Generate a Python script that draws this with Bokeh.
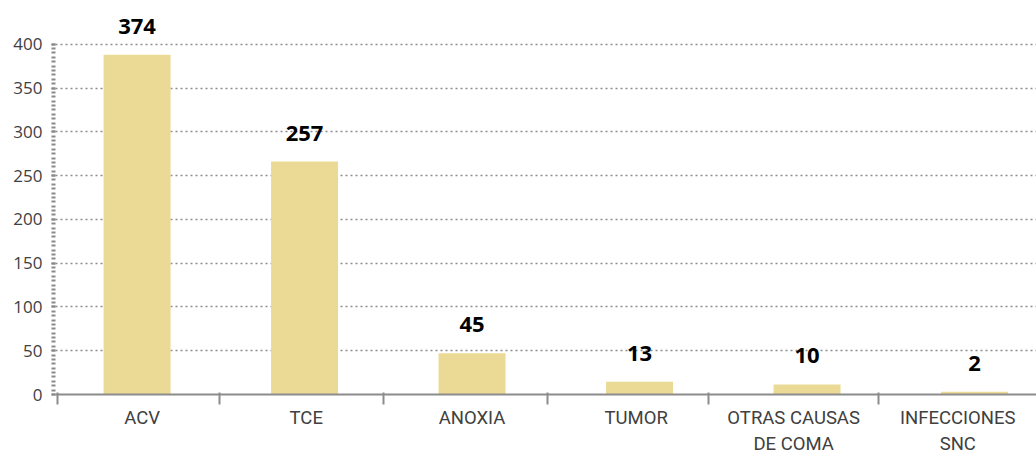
from bokeh.plotting import figure
from bokeh.models import ColumnDataSource, LabelSet, FixedTicker, Range1d
from bokeh.core.properties import value
from bokeh.embed import file_html
from bokeh.resources import INLINE

categories = ["ACV", "TCE", "ANOXIA", "TUMOR", "OTRAS CAUSAS\nDE COMA", "INFECCIONES\nSNC"]
bar_values = [388, 266, 47, 14.5, 11.5, 3]
label_texts = ["374", "257", "45", "13", "10", "2"]
y_ticks = [0, 50, 100, 150, 200, 250, 300, 350, 400]

xs = list(range(len(categories)))
src = ColumnDataSource(dict(x=xs, top=bar_values, lab=label_texts))

p = figure(width=1036, height=457, output_backend="svg", toolbar_location=None,
           x_range=Range1d(-0.487, 5.37), y_range=Range1d(0, 438.5),
           min_border_left=55, min_border_right=0, min_border_top=10, min_border_bottom=60)
p.outline_line_color = None
p.background_fill_color = "white"
p.border_fill_color = "white"

p.vbar(x="x", top="top", width=0.4, source=src, fill_color="#EBDA95", line_color=None)

labels = LabelSet(x="x", y="top", text="lab", source=src, y_offset=21,
                  text_align="center", text_baseline="alphabetic",
                  text_font=value("Open Sans"), text_font_style="bold",
                  text_font_size="22px", text_color="#000000")
p.add_layout(labels)

# y axis
p.yaxis.ticker = FixedTicker(ticks=y_ticks, minor_ticks=list(range(0, 401, 5)))
p.yaxis.axis_line_color = None
p.yaxis.major_tick_line_color = "#8a8a8a"
p.yaxis.major_tick_line_width = 2
p.yaxis.major_tick_in = 0
p.yaxis.major_tick_out = 4
p.yaxis.minor_tick_line_color = "#8a8a8a"
p.yaxis.minor_tick_line_width = 2
p.yaxis.minor_tick_in = 0
p.yaxis.minor_tick_out = 4
p.yaxis.major_label_standoff = 9
p.yaxis.major_label_text_font = "Open Sans"
p.yaxis.major_label_text_font_size = "17px"
p.yaxis.major_label_text_color = "#404040"

# x axis
label_pos = [0.03, 1.01, 2.0, 2.98, 3.92, 4.90]
bound_pos = [-0.475, 0.4925, 1.4716, 2.4507, 3.4119, 4.4269, 5.4]
p.xaxis.ticker = FixedTicker(ticks=label_pos, minor_ticks=bound_pos)
p.xaxis.major_label_overrides = {pos: c for pos, c in zip(label_pos, categories)}
p.xaxis.axis_line_color = "#8c8c8c"
p.xaxis.axis_line_width = 2
p.xaxis.major_tick_line_color = None
p.xaxis.major_tick_in = 0
p.xaxis.major_tick_out = 0
p.xaxis.minor_tick_line_color = "#8c8c8c"
p.xaxis.minor_tick_line_width = 2
p.xaxis.minor_tick_in = 2
p.xaxis.minor_tick_out = 10
p.xaxis.major_label_standoff = 2
p.xaxis.major_label_text_font = "Roboto"
p.xaxis.major_label_text_font_size = "18.5px"
p.xaxis.major_label_text_color = "#404040"
p.xaxis.major_label_text_line_height = 1.2

p.xgrid.grid_line_color = None
p.ygrid.ticker = FixedTicker(ticks=y_ticks[1:])
p.ygrid.grid_line_color = "#8c8c8c"
p.ygrid.grid_line_dash = "2 3"
p.ygrid.grid_line_width = 1.3

open("out.html", "w").write(file_html(p, INLINE))
